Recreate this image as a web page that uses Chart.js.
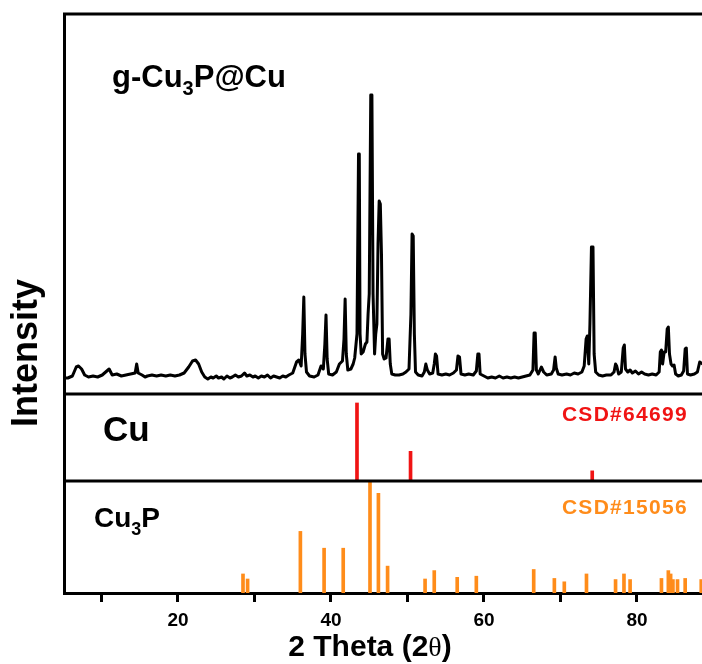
<!DOCTYPE html>
<html>
<head>
<meta charset="utf-8">
<script src="https://cdn.jsdelivr.net/npm/chart.js@4.4.1/dist/chart.umd.min.js"></script>
<style>
  body { margin: 0; background: #fff; }
  canvas { display: block; }
</style>
</head>
<body>
<canvas id="xrdChart" width="702" height="664"></canvas>
<script>
// measured pattern of g-Cu3P@Cu, [2 theta, intensity a.u.]
const xrdPattern = [
  [5.0,16],[5.6,16],[6.2,18],[6.7,27],[7.0,28],[7.4,25],[7.8,19],[8.3,17],[8.9,18],[9.5,17],
  [10.1,19],[10.7,23],[11.0,25],[11.4,19],[12.0,20],[12.6,18],[13.2,19],[13.8,20],[14.4,21],[14.6,30],
  [14.8,21],[15.3,19],[15.7,17],[16.0,18],[16.6,19],[17.2,18],[17.8,19],[18.4,18],[19.0,19],[19.6,18],
  [20.2,19],[20.8,21],[21.4,27],[21.9,33],[22.3,34],[22.7,30],[23.1,22],
  [23.5,17],[23.9,15],[24.3,17],[24.6,16],[25.0,18],[25.3,16],[25.7,17],[26.0,15],[26.4,18],[26.8,16],
  [27.1,17],[27.5,19],[27.9,17],[28.3,18],[28.7,21],[29.0,18],[29.4,19],[29.8,17],[30.1,18],[30.5,16],
  [30.9,18],[31.3,17],[31.7,19],[32.1,16],[32.5,18],[32.9,17],[33.3,16],[33.7,18],[34.1,17],[34.5,19],
  [35.0,21],[35.5,32],[35.8,34],[36.1,28],[36.3,60],[36.45,97],[36.6,40],[36.8,22],[37.2,18],[37.8,17],
  [38.3,19],[38.7,28],[39.0,25],[39.2,50],[39.35,79],[39.5,35],[39.7,20],[40.2,19],[40.7,22],[41.1,30],
  [41.5,33],[41.7,55],[41.85,95],[42.0,40],[42.2,24],[42.6,25],[42.9,30],[43.1,36],[43.4,60],[43.6,240],
  [43.7,240],[43.8,60],[43.95,40],[44.2,42],[44.5,50],[44.7,52],[44.85,80],[45.0,100],[45.2,299],[45.35,299],
  [45.5,100],[45.7,40],[45.85,60],[46.0,70],[46.15,150],[46.3,193],[46.45,190],[46.6,140],[46.75,40],[46.95,35],
  [47.2,36],[47.45,55],[47.6,55],[47.75,30],[47.95,20],[48.4,19],[48.9,19],[49.4,20],[49.8,22],[50.2,25],
  [50.45,80],[50.6,160],[50.75,158],[50.9,60],[51.05,22],[51.4,19],[51.9,18],[52.2,22],[52.4,30],[52.6,24],
  [52.9,20],[53.3,21],[53.5,30],[53.65,40],[53.8,38],[54.0,20],[54.5,19],[55.0,20],[55.5,19],[56.0,21],
  [56.4,24],[56.6,38],[56.8,37],[57.0,20],[57.5,19],[58.0,20],[58.6,19],[59.0,23],[59.2,40],[59.35,40],
  [59.5,20],[60.0,18],[60.5,16],[61.0,17],[61.5,16],[62.0,18],[62.5,16],[63.0,17],[63.5,16],[64.0,17],
  [64.5,16],[65.0,17],[65.5,18],[66.0,19],[66.4,24],[66.55,61],[66.7,61],[66.85,24],[67.1,20],[67.5,27],
  [67.8,22],[68.2,19],[68.8,20],[69.1,24],[69.3,37],[69.45,26],[69.7,20],[70.2,19],[70.8,20],[71.3,19],
  [71.8,21],[72.3,20],[72.8,22],[73.1,28],[73.35,55],[73.5,58],[73.7,30],[73.85,70],[74.05,147],[74.25,147],
  [74.4,40],[74.6,22],[75.0,19],[75.5,18],[76.0,19],[76.6,19],[77.0,22],[77.2,30],[77.35,28],[77.6,20],
  [77.95,22],[78.2,46],[78.35,49],[78.5,25],[78.8,22],[79.1,24],[79.4,21],[79.8,23],[80.2,20],[80.6,22],
  [81.0,20],[81.5,19],[82.0,20],[82.5,19],[82.9,22],[83.05,42],[83.2,44],[83.35,30],[83.55,42],[83.75,42],
  [83.95,65],[84.1,67],[84.25,40],[84.45,30],[84.65,28],[84.85,29],[85.05,20],[85.4,18],[85.8,19],[86.1,23],
  [86.3,45],[86.45,46],[86.6,20],[87.0,19],[87.5,20],[87.9,22],[88.2,32],[88.6,30]
];

// Cu reference, CSD#64699
const cuPeaks = [43.4, 50.4, 74.15];
const cuIntensity = [100, 38, 13];

// Cu3P reference, CSD#15056
const cu3pPeaks = [28.5, 29.1, 36.0, 39.1, 41.6, 45.1, 46.2, 47.4, 52.3, 53.5, 56.5, 59.0, 66.5, 69.2, 70.5, 73.4, 77.2, 78.3, 79.1, 83.2, 84.1, 84.4, 84.7, 85.3, 86.3, 88.4];
const cu3pIntensity = [17, 12.5, 55, 40, 40, 101, 89, 24, 12.5, 20, 14, 15, 21, 13, 10, 17, 12, 17, 12, 13, 20, 17, 12, 12, 13, 12];

const xTicks = [10, 20, 30, 40, 50, 60, 70, 80];

const FONT = "'Liberation Sans', Arial, sans-serif";
const RED = '#f01414';
const ORANGE = '#ff8c1a';

function withSub(ctx, parts, x, y) {
  // parts: [text, size, dy]
  parts.forEach(([t, size, dy]) => {
    ctx.font = `bold ${size}px ${FONT}`;
    ctx.fillText(t, x, y + dy);
    x += ctx.measureText(t).width;
  });
}

const panelDecor = {
  id: 'panelDecor',
  afterDatasetsDraw(chart) {
    const {ctx, chartArea} = chart;
    const yCu = chart.scales.yCu;
    const yP = chart.scales.yCu3P;
    ctx.save();
    ctx.strokeStyle = '#000';
    ctx.lineWidth = 3;
    ctx.beginPath();
    [chartArea.top, yCu.top, yP.top].forEach(y => {
      ctx.moveTo(chartArea.left - 1, y);
      ctx.lineTo(chartArea.right + 2, y);
    });
    ctx.stroke();
    ctx.restore();
  },
  afterDraw(chart) {
    const {ctx, chartArea} = chart;
    const left = chartArea.left;
    const yCu = chart.scales.yCu;
    const yP = chart.scales.yCu3P;
    ctx.save();
    ctx.textBaseline = 'alphabetic';
    ctx.textAlign = 'left';
    ctx.fillStyle = '#000';

    withSub(ctx, [['g-Cu', 31, 0], ['3', 20, 8], ['P@Cu', 31, 0]], left + 48, chartArea.top + 73);
    withSub(ctx, [['Cu', 35, 0]], left + 39, yCu.top + 47);
    withSub(ctx, [['Cu', 28, 0], ['3', 18, 8], ['P', 28, 0]], left + 30, yP.top + 46);

    ctx.textAlign = 'right';
    ctx.font = `bold 21px ${FONT}`;
    ctx.letterSpacing = '1.3px';
    ctx.fillStyle = RED;
    ctx.fillText('CSD#64699', 688, yCu.top + 27);
    ctx.fillStyle = ORANGE;
    ctx.fillText('CSD#15056', 688, yP.top + 33);
    ctx.letterSpacing = '0px';

    // y title
    ctx.fillStyle = '#000';
    ctx.save();
    ctx.translate(37, 353);
    ctx.rotate(-Math.PI / 2);
    ctx.textAlign = 'center';
    ctx.font = `bold 36px ${FONT}`;
    ctx.fillText('Intensity', 0, 0);
    ctx.restore();

    // x title
    ctx.textAlign = 'left';
    const base = 656;
    ctx.font = `bold 30px ${FONT}`;
    const a = '2 Theta (2';
    const wa = ctx.measureText(a).width;
    ctx.font = `28px 'Liberation Serif', serif`;
    const wt = ctx.measureText('\u03B8').width;
    ctx.font = `bold 30px ${FONT}`;
    const wc = ctx.measureText(')').width;
    let x = 370 - (wa + wt + wc) / 2;
    ctx.fillText(a, x, base);
    x += wa;
    ctx.font = `28px 'Liberation Serif', serif`;
    ctx.fillText('\u03B8', x, base);
    x += wt;
    ctx.font = `bold 30px ${FONT}`;
    ctx.fillText(')', x, base);
    ctx.restore();
  }
};

const hiddenY = (weight, max) => ({
  type: 'linear',
  position: 'left',
  stack: 'panels',
  stackWeight: weight,
  min: 0,
  max: max,
  offset: false,
  ticks: { display: false },
  grid: { display: false, drawTicks: false },
  border: { display: true, color: '#000', width: 3 },
  afterFit: s => { s.width = 0; }
});

new Chart(document.getElementById('xrdChart'), {
  type: 'line',
  data: {
    datasets: [
      {
        type: 'line',
        label: 'g-Cu3P@Cu',
        data: xrdPattern.map(([t, v]) => ({ x: t, y: v })),
        yAxisID: 'yXrd',
        borderColor: '#000',
        borderWidth: 3,
        pointRadius: 0,
        tension: 0,
        borderJoinStyle: 'round'
      },
      {
        type: 'bar',
        label: 'Cu',
        data: cuPeaks.map((t, i) => ({ x: t, y: cuIntensity[i] })),
        yAxisID: 'yCu',
        backgroundColor: RED,
        barThickness: 3,
        grouped: false
      },
      {
        type: 'bar',
        label: 'Cu3P',
        data: cu3pPeaks.map((t, i) => ({ x: t, y: cu3pIntensity[i] })),
        yAxisID: 'yCu3P',
        backgroundColor: ORANGE,
        barThickness: 3,
        grouped: false
      }
    ]
  },
  options: {
    responsive: false,
    animation: false,
    layout: { padding: { left: 64, right: 0, top: 14, bottom: 0 } },
    plugins: {
      legend: { display: false },
      tooltip: { enabled: false }
    },
    scales: {
      x: {
        type: 'linear',
        min: 5.1,
        max: 88.5,
        offset: false,
        afterBuildTicks: s => { s.ticks = xTicks.map(v => ({ value: v })); },
        afterFit: s => { s.height = 71; },
        ticks: {
          color: '#000',
          font: { family: FONT, size: 19, weight: 'bold' },
          padding: 7,
          maxRotation: 0,
          autoSkip: false,
          callback: v => (v % 20 === 0 ? v : '')
        },
        grid: {
          display: true,
          drawOnChartArea: false,
          offset: false,
          tickLength: 9,
          tickWidth: 3,
          tickColor: '#000'
        },
        border: { display: true, color: '#000', width: 3 }
      },
      yCu3P: hiddenY(112, 100),
      yCu: hiddenY(87, 111.5),
      yXrd: hiddenY(380, 380)
    }
  },
  plugins: [panelDecor]
});
</script>
</body>
</html>
